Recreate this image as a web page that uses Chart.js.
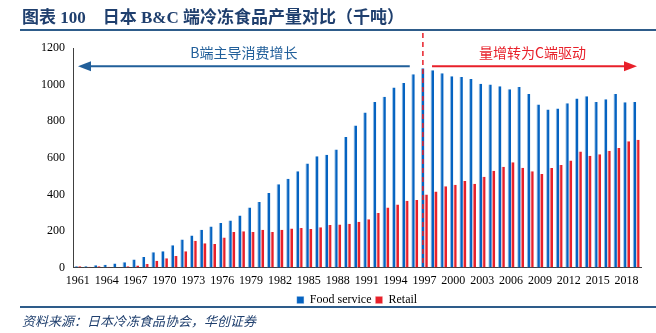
<!DOCTYPE html>
<html>
<head>
<meta charset="utf-8">
<script src="https://cdn.jsdelivr.net/npm/chart.js@4"></script>
<style>
  body { margin: 0; background: #fff; }
  #wrap { position: relative; width: 656px; height: 333px; }
  #myChart { position: absolute; left: 0; top: 0; }
  .title {
    position: absolute; left: 22px; top: 3px;
    font: bold 17px "Liberation Serif", "Noto Sans CJK SC", serif;
    color: #1f3f6e; white-space: pre;
  }
  .rule { position: absolute; left: 20px; right: 0; height: 2px; background: #2e5c8a; }
  .source {
    position: absolute; left: 22px; top: 311px;
    font: italic 13px "Noto Sans CJK SC", sans-serif;
    color: #1f3f6e;
  }
</style>
</head>
<body>
<div id="wrap">
  <canvas id="myChart"></canvas>
  <div class="title">图表 100    日本 B&amp;C 端冷冻食品产量对比（千吨）</div>
  <div class="rule" style="top:29px"></div>
  <div class="rule" style="top:306px"></div>
  <div class="source">资料来源：日本冷冻食品协会，华创证券</div>
</div>
<script>
var years = ["1961","1962","1963","1964","1965","1966","1967","1968","1969","1970",
  "1971","1972","1973","1974","1975","1976","1977","1978","1979","1980",
  "1981","1982","1983","1984","1985","1986","1987","1988","1989","1990",
  "1991","1992","1993","1994","1995","1996","1997","1998","1999","2000",
  "2001","2002","2003","2004","2005","2006","2007","2008","2009","2010",
  "2011","2012","2013","2014","2015","2016","2017","2018","2019"];

var foodService = [7,7,13,16,22,29,44,58,84,89,
  122,153,175,207,225,244,258,285,329,358,
  407,455,485,527,569,609,616,645,713,776,
  847,905,934,984,1009,1056,1089,1078,1062,1045,
  1042,1031,1005,1000,991,974,987,949,891,864,
  869,898,924,936,905,920,949,904,905];

var retail = [7,5,7,4,2,7,11,20,38,51,
  64,89,147,133,129,165,195,198,195,207,
  195,207,213,216,211,220,233,236,240,251,
  264,298,329,345,365,369,400,416,444,453,
  473,458,496,529,551,576,545,527,511,544,
  560,585,634,611,620,638,654,691,698];

var labelB = "B端主导消费增长";
var labelC = "量增转为C端驱动";
var splitYear = "1997";

var canvas = document.getElementById("myChart");
canvas.width = 656;
canvas.height = 333;
var ctx = canvas.getContext("2d");

var serif = "'Liberation Serif', 'Times New Roman', serif";

// arrows, labels and the dashed split line
var annotate = {
  id: "annotate",
  afterDatasetsDraw: function (chart) {
    var c = chart.ctx;
    var xs = chart.scales.x;
    var ys = chart.scales.y;
    var area = chart.chartArea;
    var i = years.indexOf(splitYear);
    var xSplit = xs.getPixelForValue(i) - 1.5;
    var yArrow = ys.getPixelForValue(1100);

    c.save();
    // dashed line
    c.strokeStyle = "#e8202a";
    c.lineWidth = 1.5;
    c.setLineDash([5, 4]);
    c.beginPath();
    c.moveTo(xSplit, 33);
    c.lineTo(xSplit, area.bottom);
    c.stroke();
    c.setLineDash([]);

    // blue arrow (pointing left)
    var bx0 = area.left + 5, bx1 = xs.getPixelForValue(i - 1) - 5;
    c.strokeStyle = "#215f9a";
    c.fillStyle = "#215f9a";
    c.lineWidth = 2;
    c.beginPath();
    c.moveTo(bx0 + 10, yArrow);
    c.lineTo(bx1, yArrow);
    c.stroke();
    c.beginPath();
    c.moveTo(bx0, yArrow);
    c.lineTo(bx0 + 13, yArrow - 5);
    c.lineTo(bx0 + 13, yArrow + 5);
    c.closePath();
    c.fill();

    // red arrow (pointing right)
    var rx0 = xs.getPixelForValue(i + 1) - 2, rx1 = area.right - 4;
    c.strokeStyle = "#e8202a";
    c.fillStyle = "#e8202a";
    c.beginPath();
    c.moveTo(rx0, yArrow);
    c.lineTo(rx1 - 10, yArrow);
    c.stroke();
    c.beginPath();
    c.moveTo(rx1, yArrow);
    c.lineTo(rx1 - 13, yArrow - 5);
    c.lineTo(rx1 - 13, yArrow + 5);
    c.closePath();
    c.fill();

    // labels
    c.font = "14px 'Noto Sans CJK SC', sans-serif";
    c.textAlign = "center";
    c.textBaseline = "middle";
    c.fillStyle = "#215f9a";
    c.fillText(labelB, (bx0 + bx1) / 2, yArrow - 14);
    c.fillStyle = "#e8202a";
    c.fillText(labelC, (rx0 + rx1) / 2 - 2, yArrow - 14);
    c.restore();
  }
};

var myChart = new Chart(ctx, {
  type: "bar",
  data: {
    labels: years,
    datasets: [
      {
        label: "Food service",
        data: foodService,
        backgroundColor: "#0563c1",
        borderColor: "#9dc3e6",
        borderWidth: { left: 1, right: 0, top: 0, bottom: 0 },
        borderSkipped: false,
        categoryPercentage: 0.72,
        barPercentage: 1.0
      },
      {
        label: "Retail",
        data: retail,
        backgroundColor: "#e8202a",
        borderColor: "#f4a3a7",
        borderWidth: { left: 1, right: 0, top: 0, bottom: 0 },
        borderSkipped: false,
        categoryPercentage: 0.72,
        barPercentage: 1.0
      }
    ]
  },
  options: {
    responsive: false,
    animation: false,
    layout: { padding: { left: 37, right: 15, top: 48, bottom: 17 } },
    scales: {
      x: {
        grid: { display: false, drawTicks: true, tickLength: 4, offset: true },
        border: { color: "#404040", width: 1 },
        ticks: {
          autoSkip: false,
          maxRotation: 0,
          color: "#000",
          padding: 2,
          font: { family: serif, size: 12 },
          callback: function (v, i) { return i % 3 === 0 ? years[i] : ""; }
        }
      },
      y: {
        min: 0,
        max: 1200,
        grid: { display: false, drawTicks: true, tickLength: 4 },
        border: { color: "#404040", width: 1 },
        ticks: {
          stepSize: 200,
          color: "#000",
          padding: 4,
          font: { family: serif, size: 12 },
          callback: function (v) { return String(v); }
        }
      }
    },
    plugins: {
      legend: {
        position: "bottom",
        fullSize: false,
        labels: {
          boxWidth: 7,
          boxHeight: 7,
          padding: 4,
          color: "#000",
          font: { family: serif, size: 12 }
        }
      },
      tooltip: { enabled: false }
    }
  },
  plugins: [annotate]
});
</script>
</body>
</html>
